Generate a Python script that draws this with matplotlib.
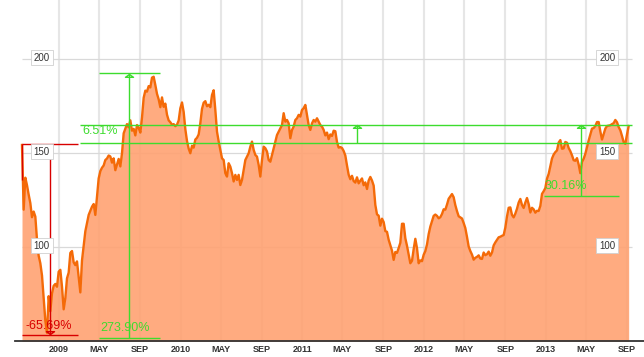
import pandas as pd
import matplotlib
matplotlib.use('Agg')
import matplotlib.pyplot as plt
import matplotlib.dates as mdates
import matplotlib.transforms as mtransforms
from matplotlib.path import Path

plt.rcParams['font.family'] = ['Liberation Sans', 'DejaVu Sans']

# --- price series, one reading every 5 days ---
start_date = '2008-09-12'
prices = [
    154.4, 120, 137, 133, 128, 123.5, 116, 119, 116.3, 104,
    95.5, 91.5, 85, 73, 61, 54.5, 74, 66, 75.5, 79.5,
    80.5, 79, 87, 88, 79, 67, 73, 83.5, 86.5, 97,
    98, 92, 90.5, 92.5, 84, 76, 93, 101, 108.5, 113,
    117.2, 119.4, 121.6, 123, 117.2, 127, 136.6, 140.5, 142.3, 143.5,
    146.4, 147.2, 148.8, 148.3, 145, 147.3, 141, 144, 147, 143,
    150, 160.6, 163, 165.5, 163.8, 167.5, 162, 163, 159.5, 165,
    163.5, 161, 169, 179.5, 183.3, 182.8, 185.7, 185, 190.2, 190.7,
    186.3, 181.6, 178.7, 174.5, 179.7, 174.7, 176.4, 170.5, 167.5, 166.5,
    165.2, 165.5, 164.4, 165.2, 167.4, 173.9, 177, 172, 162.8, 156.5,
    152.5, 150, 154, 153, 157.3, 158.2, 160, 166, 173.6, 176.9,
    177.7, 175, 175.8, 174.5, 181, 183.5, 173, 161.5, 156.3, 151.8,
    147.3, 146.4, 139.4, 137.6, 144.7, 142.9, 139.4, 135, 138.5, 135.8,
    138.5, 133.1, 135.8, 141.1, 146.4, 148.2, 150, 153.5, 156.2, 151.8,
    149.1, 148.2, 143.8, 137.6, 146.4, 153.5, 152.7, 150.9, 146.4, 145.5,
    149.1, 152.7, 156.2, 159.7, 161.5, 163.3, 165, 171.3, 166.8, 167.7,
    165.9, 158, 162.4, 164.2, 167.7, 168.6, 170.4, 169.5, 173, 174,
    175.7, 170.4, 165, 162.4, 165.9, 167.7, 166.8, 168.6, 166.8, 165,
    164.2, 162.4, 159.5, 161, 157.5, 160, 159.2, 162, 161.7, 156,
    153, 153.3, 152.8, 151.2, 148.8, 143.5, 138.6, 136.2, 138, 135.2,
    134.4, 137.2, 134, 135.4, 136.6, 133, 134.5, 131, 135.5, 137.4,
    135.5, 132.8, 122.5, 117.5, 116.8, 111.5, 115.2, 113.4, 108.6, 108.2,
    104, 101, 98.2, 93.3, 97.5, 97, 99.6, 102.4, 112.5, 112.5,
    104.8, 100.8, 96, 91.5, 92.8, 99, 104.5, 99.5, 91.5, 93,
    92.6, 96, 98, 101.5, 107, 111, 113.8, 116.7, 117.4, 116.7,
    115.4, 116, 117.7, 120.2, 120, 122.7, 125.8, 127.1, 128.3, 126.6,
    122.4, 119.2, 116.5, 115.9, 115.3, 112.9, 110.2, 105.5, 100.4, 98,
    96.1, 93.4, 94.4, 94.9, 95.7, 94, 93.8, 97.2, 95.8, 96.3,
    97.7, 95.5, 97.2, 101, 102.6, 104, 105.3, 105.6, 106.1, 106.5,
    110.5, 116.4, 121, 121.2, 117.2, 115.9, 117.9, 120.5, 123.8, 125.7,
    122.5, 120.9, 123.8, 126.2, 123, 118.5, 121, 120.2, 118.4, 119.4,
    119.3, 122, 128.4, 129.8, 131.5, 136.5, 139, 143.2, 147.2, 149.3,
    150.6, 151.5, 155.7, 157, 152.4, 152.6, 156, 155.6, 152.8, 151.1,
    148.9, 146.3, 146, 147.4, 144, 139.4, 145.4, 147.1, 149.7, 153.3,
    156.8, 159.9, 163.1, 163.4, 164.5, 166.6, 166.6, 161.6, 157.3, 160.3,
    163.1, 164.5, 164.7, 164.9, 165.5, 166, 167.7, 166.5, 163.9, 162.2,
    159.2, 155.9, 155, 160, 164.5,
]
dates = pd.date_range(start_date, periods=len(prices), freq='5D')

tick_dates = pd.date_range('2009-01-01', '2013-09-01', freq='4MS')
tick_labels = [d.strftime('%Y') if d.month == 1 else d.strftime('%b').upper() for d in tick_dates]
y_levels = [100, 150, 200]

# --- measurement annotations ---
drop_span = ('2008-09-12', '2009-02-27')
drop_date = '2008-12-05'
drop_top, drop_low = 154.8, 53.4
drop_text = ('2008-09-21', 58.1, '-65.69%')

rise_span = ('2009-05-01', '2009-10-31')
rise_date = '2009-07-30'
rise_low, rise_high = 51.7, 192.6
rise_text = ('2009-05-04', 57.3, '273.90%')

band_span = ('2009-03-05', '2013-09-16')
band_date = '2011-06-13'
band_low, band_high = 155.3, 165.2
band_text = ('2009-03-11', 161.9, '6.51%')

last_span = ('2012-12-26', '2013-08-08')
last_date = '2013-04-16'
last_low = 127.3
last_text = ('2012-12-29', 132.6, '30.16%')

RED = '#d80000'
GREEN = '#3ddc2e'

up_tri = Path([(-1, -0.7), (0, 0), (1, -0.7), (-1, -0.7)],
              [Path.MOVETO, Path.LINETO, Path.LINETO, Path.CLOSEPOLY])
down_tri = Path([(-1, 0.7), (0, 0), (1, 0.7), (-1, 0.7)],
                [Path.MOVETO, Path.LINETO, Path.LINETO, Path.CLOSEPOLY])

T = pd.Timestamp

fig = plt.figure(figsize=(6.44, 3.57), dpi=100)
ax = fig.add_axes([0, 0.044, 1, 0.956])
ax.set_xlim(T('2008-07-08'), T('2013-10-22'))
ax.set_ylim(50, 231.5)

# grid
for d in tick_dates:
    ax.axvline(d, color='#e6e6e6', lw=1.5, zorder=1)
ax.hlines(y_levels, T('2008-09-12'), T('2013-09-16'), color='#d9d9d9', lw=0.9, zorder=1)

# area + line
ax.fill_between(dates, prices, 50, color='#ffa272', alpha=0.9, lw=0, zorder=2)
ax.plot(dates, prices, color='#f46a08', lw=1.7, zorder=3, solid_joinstyle='round')

# red drop measurement
ax.hlines([drop_top, drop_low], T(drop_span[0]), T(drop_span[1]), color=RED, lw=1, zorder=4)
ax.vlines(T(drop_span[0]), 136, drop_top, color=RED, lw=1, zorder=4)
ax.vlines(T(drop_date), drop_low, drop_top, color=RED, lw=1, zorder=4)
ax.plot([T(drop_date)], [drop_low + 0.4], marker=down_tri, ms=5.8, mfc='none', mec=RED, mew=1, zorder=4)
ax.text(T(drop_text[0]), drop_text[1], drop_text[2], color=RED, fontsize=9, va='center', zorder=5)

# green rise measurement
ax.hlines([rise_low, rise_high], T(rise_span[0]), T(rise_span[1]), color=GREEN, lw=1, zorder=4)
ax.vlines(T(rise_date), rise_low, rise_high, color=GREEN, lw=1, zorder=4)
ax.plot([T(rise_date)], [rise_high - 0.4], marker=up_tri, ms=5.8, mfc='none', mec=GREEN, mew=1, zorder=4)
ax.text(T(rise_text[0]), rise_text[1], rise_text[2], color=GREEN, fontsize=9, va='center', zorder=5)

# green band
ax.hlines([band_low, band_high], T(band_span[0]), T(band_span[1]), color=GREEN, lw=1, zorder=4)
ax.vlines(T(band_date), band_low, band_high, color=GREEN, lw=1, zorder=4)
ax.plot([T(band_date)], [band_high - 0.4], marker=up_tri, ms=5.8, mfc='none', mec=GREEN, mew=1, zorder=4)
ax.text(T(band_text[0]), band_text[1], band_text[2], color=GREEN, fontsize=9, va='center', zorder=5)

# last rise
ax.hlines(last_low, T(last_span[0]), T(last_span[1]), color=GREEN, lw=1, zorder=4)
ax.vlines(T(last_date), last_low, band_high, color=GREEN, lw=1, zorder=4)
ax.plot([T(last_date)], [band_high - 0.4], marker=up_tri, ms=5.8, mfc='none', mec=GREEN, mew=1, zorder=4)
ax.text(T(last_text[0]), last_text[1], last_text[2], color=GREEN, fontsize=9, va='center', zorder=5)

# boxed y labels on both sides
trans = mtransforms.blended_transform_factory(ax.transAxes, ax.transData)
box = dict(boxstyle='square,pad=0.3', fc='white', ec='#d0d0d0', lw=0.6)
for lv in y_levels:
    for xf in (0.065, 0.943):
        ax.text(xf, lv + 0.9, str(lv), transform=trans, fontsize=7, color='#333333',
                ha='center', va='center', bbox=box, zorder=6)

# axes styling
for s in ('top', 'left', 'right'):
    ax.spines[s].set_visible(False)
ax.spines['bottom'].set_color('#333333')
ax.spines['bottom'].set_linewidth(1.3)
ax.spines['bottom'].set_bounds(mdates.date2num(T('2008-08-22')), mdates.date2num(T('2013-10-22')))
ax.set_yticks([])
ax.set_xticks(tick_dates)
ax.set_xticklabels(tick_labels, fontsize=6.5, fontweight='bold', color='#333333')
ax.tick_params(axis='x', length=0, pad=3)

fig.savefig('out.png', dpi=100)
